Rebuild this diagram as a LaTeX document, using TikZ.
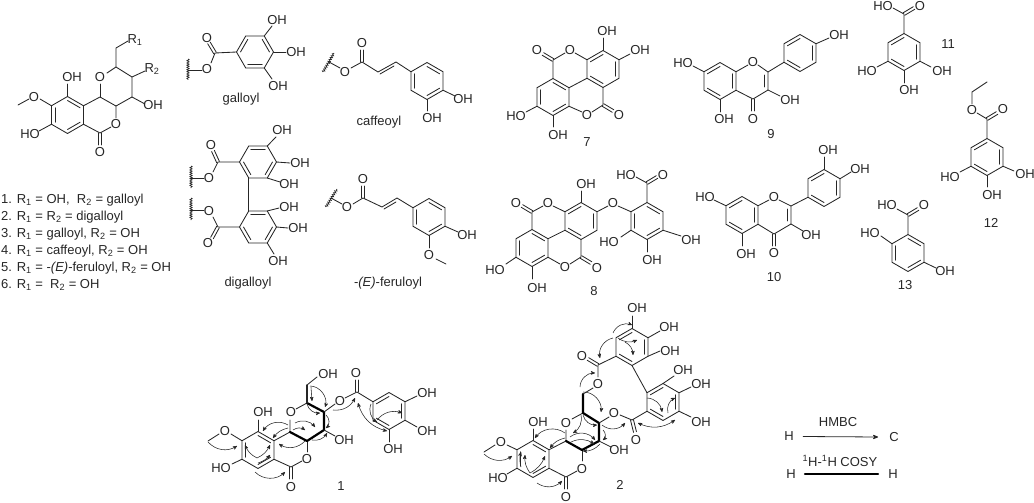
\documentclass[tikz,border=0pt]{standalone}
\usepackage{fontspec}
\setmainfont{Liberation Sans}
\usetikzlibrary{arrows,calc,decorations.pathmorphing}
\tikzstyle{bond} = [draw, black!85, line width=0.85pt, line cap=round, line join=round]
\tikzstyle{cosy} = [draw, black, line width=2.2pt, line cap=round, line join=round]
\tikzstyle{wavy} = [draw, black!85, line width=0.7pt, decorate, decoration={snake, amplitude=1.1pt, segment length=2.2pt}]
\tikzstyle{hmbc} = [draw, black!85, line width=0.55pt, -stealth']
\tikzstyle{atom} = [text=black!85, inner sep=0pt, font=\fontsize{13}{15}\selectfont]
\tikzstyle{cpd} = [text=black!85, inner sep=0pt, font=\fontsize{13}{15}\selectfont]
\tikzstyle{entry} = [text=black!85, inner sep=0pt, anchor=west, font=\fontsize{13}{15}\selectfont]
% ring: name, centre x, centre y, first vertex angle, first double edge
\newcommand{\hexring}[5]{%
  \foreach \i in {1,...,6} {\coordinate (#1\i) at ($(#2,#3)+({#4+60*(\i-1)}:18.5)$);}
  \draw[bond] (#11) -- (#12) -- (#13) -- (#14) -- (#15) -- (#16) -- cycle;
  \foreach \i in {0,2,4} {\draw[bond] ($(#2,#3)+({#4+60*(\i+#5-1)}:14.5)$) -- ($(#2,#3)+({#4+60*(\i+#5)}:14.5)$);}
}
\newcommand{\dbl}[2]{%
  \draw[bond] ($(#1)!1.5pt!90:(#2)$) -- ($(#2)!1.5pt!-90:(#1)$);
  \draw[bond] ($(#1)!1.5pt!-90:(#2)$) -- ($(#2)!1.5pt!90:(#1)$);
}
\begin{document}
\begin{tikzpicture}[x=1pt,y=-1pt]
  \useasboundingbox (0,0) rectangle (1034,503);

  % parent skeleton
  \hexring{main}{67.5}{115}{-90}{1}
  \draw[bond] (main1) -- (67.5,84);
  \draw[bond] (main6) -- (40,99);
  \draw[bond] (29,99) -- (18,105);
  \draw[bond] (main5) -- (39,131);
  \draw[bond] (main3) -- (100,133) -- (111,127);
  \draw[bond] (116,118) -- (116,106) -- (100,97) -- (main2);
  \draw[bond] (100,97) -- (100,84);
  \draw[bond] (107,73) -- (116,67) -- (132,77) -- (132,97) -- (116,106);
  \draw[bond] (132,97) -- (145,104);
  \draw[bond] (132,77) -- (145,71);
  \draw[bond] (116,67) -- (116,48) -- (128,41);
  \dbl{100,133}{100,145}
  \node[atom] (mainOHa) at (72,77) {OH};
  \node[atom] (mainOa) at (34,97) {O};
  \node[atom] (mainHO) at (30,134) {HO};
  \node[atom] (mainOb) at (116,124) {O};
  \node[atom] (mainOc) at (100,152) {O};
  \node[atom] (mainOd) at (100,77) {O};
  \node[atom] (mainOHb) at (153,105) {OH};
  \node[atom] (mainRb) at (152,69) {R\textsubscript{2}};
  \node[atom] (mainRa) at (135,40) {R\textsubscript{1}};
  \node[entry] (listA) at (1,200) {1. R\textsubscript{1} = OH,\ \ R\textsubscript{2} = galloyl};
  \node[entry] (listB) at (1,217) {2. R\textsubscript{1} = R\textsubscript{2} = digalloyl};
  \node[entry] (listC) at (1,234) {3. R\textsubscript{1} = galloyl, R\textsubscript{2} = OH};
  \node[entry] (listD) at (1,251) {4. R\textsubscript{1} = caffeoyl, R\textsubscript{2} = OH};
  \node[entry] (listE) at (1,268) {5. R\textsubscript{1} = -\textit{(E)}-feruloyl, R\textsubscript{2} = OH};
  \node[entry] (listF) at (1,285) {6. R\textsubscript{1} =\ \ R\textsubscript{2} = OH};

  % galloyl
  \hexring{gal}{255}{52}{0}{2}
  \draw[bond] (gal4) -- (215,53) -- (211,63);
  \dbl{215,53}{209,43}
  \draw[wavy] (188,59) -- (188,80);
  \draw[bond] (188,70) -- (202,70);
  \draw[bond] (gal6) -- (272,26);
  \draw[bond] (gal1) -- (286,52);
  \draw[bond] (gal2) -- (272,79);
  \node[atom] (galOa) at (207,38) {O};
  \node[atom] (galOb) at (207,69) {O};
  \node[atom] (galOHa) at (277,20) {OH};
  \node[atom] (galOHb) at (296,52) {OH};
  \node[atom] (galOHc) at (278,86) {OH};
  \node[cpd] (galname) at (241,99) {galloyl};

  % digalloyl
  \hexring{dga}{258}{162}{0}{1}
  \hexring{dgb}{258}{227}{0}{1}
  \draw[bond] (dga3) -- (dgb5);
  \draw[bond] (dga4) -- (218,162) -- (213,172);
  \dbl{218,162}{213,151}
  \draw[wavy] (191,166) -- (191,188);
  \draw[bond] (191,178) -- (204,178);
  \draw[wavy] (191,198) -- (191,220);
  \draw[bond] (191,210) -- (204,210);
  \draw[bond] (213,217) -- (218,227) -- (dgb4);
  \dbl{218,227}{212,238}
  \draw[bond] (dga6) -- (276,137);
  \draw[bond] (dga1) -- (290,163);
  \draw[bond] (dga2) -- (280,182);
  \draw[bond] (dgb6) -- (279,208);
  \draw[bond] (dgb1) -- (288,228);
  \draw[bond] (dgb2) -- (274,254);
  \node[atom] (dgaOa) at (211,145) {O};
  \node[atom] (dgaOb) at (209,178) {O};
  \node[atom] (dgbOa) at (209,211) {O};
  \node[atom] (dgbOb) at (208,243) {O};
  \node[atom] (dgaOHa) at (282,130) {OH};
  \node[atom] (dgaOHb) at (300,163) {OH};
  \node[atom] (dgaOHc) at (289,184) {OH};
  \node[atom] (dgbOHa) at (289,207) {OH};
  \node[atom] (dgbOHb) at (298,228) {OH};
  \node[atom] (dgbOHc) at (278,261) {OH};
  \node[cpd] (dgname) at (248,283) {digalloyl};

  % caffeoyl
  \hexring{caf}{427}{81}{-90}{1}
  \draw[wavy] (323,72) -- (334,53);
  \draw[bond] (329,62) -- (340,68);
  \draw[bond] (351,68) -- (362,62) -- (378,72) -- (396,62) -- (caf6);
  \draw[bond] (380,74) -- (394,66);
  \dbl{362,62}{362,50}
  \draw[bond] (caf3) -- (455,96);
  \draw[bond] (caf4) -- (427,111);
  \node[atom] (cafOa) at (345,72) {O};
  \node[atom] (cafOb) at (362,43) {O};
  \node[atom] (cafOHa) at (463,99) {OH};
  \node[atom] (cafOHb) at (432,118) {OH};
  \node[cpd] (cafname) at (379,122) {caffeoyl};

  % feruloyl
  \hexring{fer}{429}{217}{-90}{1}
  \draw[wavy] (326,207) -- (337,189);
  \draw[bond] (331,198) -- (342,204);
  \draw[bond] (353,204) -- (363,198) -- (382,207) -- (397,198) -- (fer6);
  \draw[bond] (384,209) -- (396,202);
  \dbl{363,198}{363,186}
  \draw[bond] (fer3) -- (458,232);
  \draw[bond] (fer4) -- (429,248);
  \draw[bond] (436,259) -- (446,264);
  \node[atom] (ferOa) at (347,207) {O};
  \node[atom] (ferOb) at (363,179) {O};
  \node[atom] (ferOHa) at (467,235) {OH};
  \node[atom] (ferOc) at (429,255) {O};
  \node[cpd] (fername) at (388,283) {-\textit{(E)}-feruloyl};

  % 7
  \hexring{sevL}{553}{97}{-90}{1}
  \hexring{sevR}{603}{69}{-90}{2}
  \draw[bond] (sevL2) -- (sevR5);
  \draw[bond] (sevL1) -- (553,60) -- (565,53);
  \draw[bond] (575,53) -- (sevR6);
  \dbl{553,60}{543,54}
  \draw[bond] (sevL3) -- (582,112);
  \draw[bond] (592,112) -- (603,105) -- (sevR4);
  \dbl{603,105}{613,111}
  \draw[bond] (sevR1) -- (603,38);
  \draw[bond] (sevR2) -- (630,54);
  \draw[bond] (sevL5) -- (526,112);
  \draw[bond] (sevL4) -- (553,127);
  \node[atom] (sevOa) at (570,50) {O};
  \node[atom] (sevOb) at (537,50) {O};
  \node[atom] (sevOc) at (587,115) {O};
  \node[atom] (sevOd) at (619,115) {O};
  \node[atom] (sevOHa) at (607,31) {OH};
  \node[atom] (sevOHb) at (640,50) {OH};
  \node[atom] (sevHO) at (516,116) {HO};
  \node[atom] (sevOHc) at (558,135) {OH};
  \node[cpd] (sevname) at (587,142) {7};

  % 8
  \hexring{eigL}{532}{248}{-90}{1}
  \hexring{eigR}{581}{221}{-90}{2}
  \hexring{eigP}{647}{221}{-90}{1}
  \draw[bond] (eigL2) -- (eigR5);
  \draw[bond] (eigL1) -- (532,212) -- (543,206);
  \draw[bond] (553,206) -- (eigR6);
  \dbl{532,212}{522,206}
  \draw[bond] (eigL3) -- (560,264);
  \draw[bond] (570,264) -- (581,257) -- (eigR4);
  \dbl{581,257}{591,263}
  \draw[bond] (eigR1) -- (581,191);
  \draw[bond] (eigR2) -- (608,206);
  \draw[bond] (618,206) -- (eigP6);
  \draw[bond] (eigP1) -- (647,183) -- (636,177);
  \dbl{647,183}{657,177}
  \draw[bond] (eigP3) -- (681,236);
  \draw[bond] (eigP5) -- (621,237);
  \draw[bond] (eigP4) -- (647,252);
  \draw[bond] (eigL5) -- (506,264);
  \draw[bond] (eigL4) -- (532,279);
  \node[atom] (eigOa) at (548,203) {O};
  \node[atom] (eigOb) at (516,203) {O};
  \node[atom] (eigOc) at (565,267) {O};
  \node[atom] (eigOd) at (597,268) {O};
  \node[atom] (eigOe) at (613,203) {O};
  \node[atom] (eigOf) at (663,175) {O};
  \node[atom] (eigHOa) at (626,175) {HO};
  \node[atom] (eigOHa) at (586,184) {OH};
  \node[atom] (eigOHb) at (691,240) {OH};
  \node[atom] (eigHOb) at (609,242) {HO};
  \node[atom] (eigOHc) at (652,260) {OH};
  \node[atom] (eigHOc) at (495,270) {HO};
  \node[atom] (eigOHd) at (537,288) {OH};
  \node[cpd] (eigname) at (594,291) {8};

  % 9
  \hexring{nineA}{720}{81}{-90}{2}
  \hexring{nineB}{800}{53}{-90}{2}
  \draw[bond] (nineA2) -- (748,65);
  \draw[bond] (758,65) -- (768,72) -- (768,90) -- (753,99) -- (nineA3);
  \draw[bond] (764,75) -- (764,87);
  \draw[bond] (768,72) -- (nineB5);
  \dbl{753,99}{753,111}
  \draw[bond] (nineB2) -- (829,38);
  \draw[bond] (nineA6) -- (693,66);
  \draw[bond] (nineA4) -- (720,112);
  \draw[bond] (768,90) -- (780,96);
  \node[atom] (nineO) at (753,62) {O};
  \node[atom] (nineOb) at (753,119) {O};
  \node[atom] (nineOHa) at (839,35) {OH};
  \node[atom] (nineHO) at (683,63) {HO};
  \node[atom] (nineOHb) at (724,119) {OH};
  \node[atom] (nineOHc) at (790,100) {OH};
  \node[cpd] (ninename) at (771,134) {9};

  % 10
  \hexring{tenA}{742}{215}{-90}{2}
  \hexring{tenB}{824}{188}{-90}{2}
  \draw[bond] (tenA2) -- (769,200);
  \draw[bond] (779,200) -- (791,206) -- (791,224) -- (774,234) -- (tenA3);
  \draw[bond] (787,209) -- (787,221);
  \draw[bond] (791,206) -- (tenB5);
  \dbl{774,234}{774,246}
  \draw[bond] (tenB1) -- (824,157);
  \draw[bond] (tenB2) -- (851,172);
  \draw[bond] (tenA6) -- (714,200);
  \draw[bond] (tenA4) -- (742,246);
  \draw[bond] (791,224) -- (803,231);
  \node[atom] (tenO) at (774,197) {O};
  \node[atom] (tenOb) at (774,253) {O};
  \node[atom] (tenOHa) at (828,150) {OH};
  \node[atom] (tenOHb) at (860,169) {OH};
  \node[atom] (tenHO) at (705,197) {HO};
  \node[atom] (tenOHc) at (746,254) {OH};
  \node[atom] (tenOHd) at (811,235) {OH};
  \node[cpd] (tenname) at (774,277) {10};

  % 11
  \hexring{elev}{904}{52}{-90}{2}
  \draw[bond] (elev1) -- (904,14) -- (893,8);
  \dbl{904,14}{914,8}
  \draw[bond] (elev3) -- (931,67);
  \draw[bond] (elev5) -- (877,67);
  \draw[bond] (elev4) -- (904,83);
  \node[atom] (elevHOa) at (883,6) {HO};
  \node[atom] (elevO) at (920,6) {O};
  \node[atom] (elevOHa) at (942,71) {OH};
  \node[atom] (elevHOb) at (867,71) {HO};
  \node[atom] (elevOHb) at (909,90) {OH};
  \node[cpd] (elevname) at (948,44) {11};

  % 12
  \hexring{twel}{987}{157}{-90}{2}
  \draw[bond] (twel1) -- (987,119) -- (977,113);
  \dbl{987,119}{997,113}
  \draw[bond] (972,104) -- (972,92) -- (987,82);
  \draw[bond] (twel5) -- (960,172);
  \draw[bond] (twel3) -- (1014,171);
  \draw[bond] (twel4) -- (987,187);
  \node[atom] (twelOa) at (972,110) {O};
  \node[atom] (twelOb) at (1003,109) {O};
  \node[atom] (twelHO) at (950,177) {HO};
  \node[atom] (twelOHa) at (1025,174) {OH};
  \node[atom] (twelOHb) at (992,195) {OH};
  \node[cpd] (twelname) at (991,223) {12};

  % 13
  \hexring{thir}{908}{253}{-90}{1}
  \draw[bond] (thir1) -- (908,215) -- (897,209);
  \dbl{908,215}{918,209}
  \draw[bond] (thir6) -- (881,236);
  \draw[bond] (thir3) -- (936,268);
  \node[atom] (thirHOa) at (887,205) {HO};
  \node[atom] (thirO) at (924,205) {O};
  \node[atom] (thirHOb) at (870,233) {HO};
  \node[atom] (thirOH) at (945,271) {OH};
  \node[cpd] (thirname) at (905,285) {13};

  % 1
  \hexring{oneA}{258}{450}{-90}{1}
  \hexring{oneG}{389}{411}{-90}{2}
  \draw[bond] (oneA1) -- (258,420);
  \draw[bond] (oneA6) -- (231,434);
  \draw[bond] (219,434) -- (208,441);
  \draw[bond] (oneA5) -- (232,464);
  \draw[bond] (oneA3) -- (291,467) -- (302,461);
  \draw[bond] (307,452) -- (307,441);
  \draw[bond] (oneA2) -- (290,432) -- (290,420);
  \draw[bond] (296,409) -- (307,403);
  \draw[cosy] (290,432) -- (307,441) -- (324,430) -- (324,412) -- (307,403);
  \draw[bond,line width=1.2pt] (307,403) -- (307,385);
  \draw[bond] (307,385) -- (317,377);
  \draw[bond] (324,430) -- (335,436);
  \draw[bond] (324,412) -- (335,404);
  \draw[bond] (345,398) -- (357,392) -- (oneG6);
  \dbl{357,392}{357,380}
  \dbl{291,467}{291,479}
  \draw[bond] (oneG2) -- (417,396);
  \draw[bond] (oneG3) -- (417,427);
  \draw[bond] (oneG4) -- (389,442);
  \draw[hmbc] (208,442) to[bend right=40] (237,446);
  \draw[hmbc] (255,472) to[bend right=45] (285,472);
  \draw[hmbc] (257,458) to[bend left=20] (245,445);
  \draw[hmbc] (257,458) to[bend right=20] (270,445);
  \draw[hmbc] (258,463) to[bend right=15] (270,455);
  \draw[hmbc] (288,425) to[bend right=45] (263,431);
  \draw[hmbc] (288,428) to[bend right=20] (273,438);
  \draw[hmbc] (295,423) to[bend left=40] (315,427);
  \draw[hmbc] (293,430) to[bend left=35] (305,430);
  \draw[hmbc] (305,441) to[bend left=40] (279,444);
  \draw[hmbc] (311,387) to (312,401);
  \draw[hmbc] (310,386) to[bend left=55] (325,407);
  \draw[hmbc] (307,404) to[bend right=40] (320,413);
  \draw[hmbc] (333,410) to[bend right=35] (355,398);
  \draw[hmbc] (326,415) to[bend left=50] (326,428);
  \draw[hmbc] (312,440) to[bend right=35] (327,433);
  \draw[hmbc,stealth'-stealth'] (358,403) to[bend right=30] (387,431);
  \draw[hmbc] (371,404) to[bend right=40] (377,422);
  \draw[hmbc] (377,420) to[bend left=35] (402,413);
  \node[atom] (oneOHa) at (263,412) {OH};
  \node[atom] (oneOa) at (225,431) {O};
  \node[atom] (oneHO) at (221,468) {HO};
  \node[atom] (oneOb) at (307,459) {O};
  \node[atom] (oneOc) at (291,487) {O};
  \node[atom] (oneOd) at (291,412) {O};
  \node[atom] (oneOHb) at (328,374) {OH};
  \node[atom] (oneOHc) at (344,440) {OH};
  \node[atom] (oneOe) at (340,401) {O};
  \node[atom] (oneOf) at (356,373) {O};
  \node[atom] (oneOHd) at (427,393) {OH};
  \node[atom] (oneOHe) at (427,431) {OH};
  \node[atom] (oneOHf) at (393,449) {OH};
  \node[cpd] (onename) at (341,486) {1};

  % 2
  \hexring{twoA}{533}{459}{-90}{1}
  \hexring{twoU}{632}{347}{-90}{2}
  \hexring{twoL}{663}{402}{-90}{2}
  \draw[bond] (twoA1) -- (533,429);
  \draw[bond] (twoA6) -- (507,445);
  \draw[bond] (495,445) -- (484,452);
  \draw[bond] (twoA5) -- (507,474);
  \draw[bond] (twoA3) -- (566,477) -- (577,471);
  \draw[bond] (582,461) -- (582,450);
  \draw[bond] (twoA2) -- (566,441) -- (566,430);
  \draw[bond] (572,419) -- (583,413);
  \draw[cosy] (566,441) -- (582,450) -- (599,441) -- (599,423) -- (583,413) -- (583,394);
  \draw[bond] (583,394) -- (593,388);
  \draw[bond] (598,377) -- (598,365) -- (twoU5);
  \dbl{598,365}{588,359}
  \draw[bond] (twoU4) -- (twoL6);
  \draw[bond] (twoU1) -- (632,316);
  \draw[bond] (twoU2) -- (660,331);
  \draw[bond] (twoU3) -- (660,351);
  \draw[bond] (twoL1) -- (674,376);
  \draw[bond] (twoL2) -- (691,387);
  \draw[bond] (twoL3) -- (691,417);
  \draw[bond] (twoL5) -- (632,420) -- (620,415);
  \draw[bond] (599,423) -- (609,417);
  \dbl{632,420}{635,432}
  \dbl{566,477}{566,489}
  \draw[bond] (599,441) -- (611,447);
  \draw[hmbc] (484,454) to[bend right=40] (512,456);
  \draw[hmbc] (537,483) to[bend right=40] (562,481);
  \draw[hmbc] (530,473) to[bend left=20] (525,455);
  \draw[hmbc] (530,473) to[bend right=20] (545,456);
  \draw[hmbc] (521,467) to[bend left=15] (521,452);
  \draw[hmbc] (565,433) to[bend right=45] (535,438);
  \draw[hmbc] (565,438) to[bend right=20] (550,448);
  \draw[hmbc] (570,437) to[bend left=45] (595,440);
  \draw[hmbc] (571,442) to[bend left=30] (594,444);
  \draw[hmbc] (581,415) to[bend left=35] (573,433);
  \draw[hmbc] (583,415) to[bend right=40] (597,425);
  \draw[hmbc] (583,392) to[bend left=50] (601,412);
  \draw[hmbc] (580,387) to[bend left=45] (595,373);
  \draw[hmbc] (602,425) to[bend right=45] (625,423);
  \draw[hmbc,stealth'-stealth'] (638,423) to[bend right=30] (675,420);
  \draw[hmbc] (603,430) to[bend left=50] (603,440);
  \draw[hmbc] (600,444) to[bend left=25] (583,451);
  \draw[hmbc] (613,333) to[bend left=45] (632,325);
  \draw[hmbc] (613,338) to[bend right=45] (600,358);
  \draw[hmbc] (618,338) to[bend right=30] (637,340);
  \draw[hmbc] (625,342) to[bend left=30] (633,355);
  \draw[hmbc] (647,398) to[bend left=40] (662,412);
  \draw[hmbc] (668,413) to[bend left=40] (675,398);
  \node[atom] (twoOHa) at (538,422) {OH};
  \node[atom] (twoOa) at (501,442) {O};
  \node[atom] (twoHO) at (498,478) {HO};
  \node[atom] (twoOb) at (582,469) {O};
  \node[atom] (twoOc) at (566,497) {O};
  \node[atom] (twoOd) at (566,423) {O};
  \node[atom] (twoOe) at (598,384) {O};
  \node[atom] (twoOf) at (582,356) {O};
  \node[atom] (twoOg) at (614,413) {O};
  \node[atom] (twoOh) at (636,440) {O};
  \node[atom] (twoOHb) at (637,308) {OH};
  \node[atom] (twoOHc) at (669,327) {OH};
  \node[atom] (twoOHd) at (670,351) {OH};
  \node[atom] (twoOHe) at (683,370) {OH};
  \node[atom] (twoOHf) at (701,384) {OH};
  \node[atom] (twoOHg) at (701,422) {OH};
  \node[atom] (twoOHh) at (619,450) {OH};
  \node[cpd] (twoname) at (620,485) {2};

  % legend
  \node[atom] (legHa) at (789,436) {H};
  \node[atom] (legC) at (894,437) {C};
  \node[atom] (legHb) at (791,474) {H};
  \node[atom] (legHc) at (893,474) {H};
  \node[cpd] (legHMBC) at (838,422) {HMBC};
  \node[cpd] (legCOSY) at (840,461) {\textsuperscript{1}H-\textsuperscript{1}H COSY};
  \draw[hmbc,line width=0.8pt] (legHa.east) ++(9,0.5) -- ($(legC.west)+(-11,0)$);
  \draw[cosy] (legHb.east) ++(9,0) -- ($(legHc.west)+(-10,0)$);
\end{tikzpicture}
\end{document}
